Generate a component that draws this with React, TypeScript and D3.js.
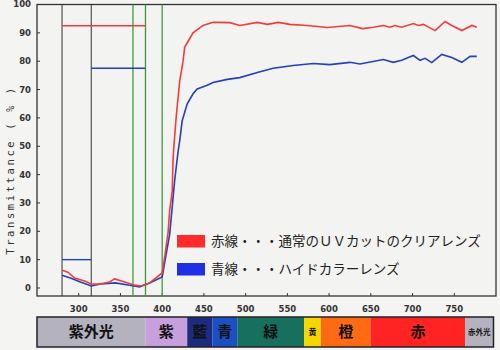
import React from "react";
import * as d3 from "d3";

const W = 500, H = 350;

const redCurve: [number, number][] = [
  [280, 6.3], [287, 5.6], [295, 3.5], [307, 2.5], [315, 1.4], [325, 1.4], [337, 2.1], [343, 3.2],
  [355, 2.1], [367, 1.0], [375, 0.7], [385, 1.8], [400, 5.3], [403, 11], [407, 19.4], [409, 27.5],
  [412, 34], [413, 45], [414, 50], [417, 61], [421, 73], [425, 80], [427, 85], [433, 88], [437, 90],
  [449, 92.6], [461, 93.7], [466, 93.7], [481, 93.6], [493, 92.6], [514, 93.7], [526, 93],
  [539, 93.7], [553, 93], [574, 92.6], [598, 91.9], [625, 92.6], [640, 91.5], [653, 92],
  [665, 92.6], [673, 92], [679, 92.6], [687, 92], [701, 93.3], [707, 92.6], [713, 93], [727, 90.8],
  [739, 94], [747, 92.6], [759, 90.8], [771, 92.6], [777, 92],
];

const blueCurve: [number, number][] = [
  [280, 4.5], [290, 3.5], [302, 2.1], [315, 0.7], [326, 1.4], [344, 1.8], [361, 1.0], [373, 0.4],
  [385, 1.8], [400, 3.9], [409, 19], [415, 38], [419, 48], [421, 52], [424, 59], [430, 65],
  [437, 68.5], [442, 70.2], [454, 71.5], [461, 72.5], [478, 73.6], [493, 74.2], [514, 76],
  [533, 77.5], [557, 78.5], [581, 79.2], [601, 78.8], [625, 79.6], [637, 79], [665, 80.6],
  [677, 79.6], [687, 80.3], [701, 82], [709, 80.3], [715, 81], [723, 79.5], [735, 82.4],
  [747, 81.3], [759, 79.6], [769, 81.7], [777, 81.7],
];

const blackLines = [280, 315];
const greenLines = [365, 380, 400];
// [from, to, value, series]
const levelSegments: [number, number, number, string][] = [
  [280, 380, 92.5, "red"],
  [315, 380, 77.5, "blue"],
  [280, 315, 10, "blue"],
];

const xTicks = [300, 350, 400, 450, 500, 550, 600, 650, 700, 750];
const yTicks = [0, 10, 20, 30, 40, 50, 60, 70, 80, 90, 100];

const bands: [number, number, string, string, string, number][] = [
  [250, 380, "紫外光", "#b4b2bf", "#111", 15],
  [380, 430, "紫", "#c79fdc", "#111", 15],
  [430, 460, "藍", "#1d2c7e", "#111", 15],
  [460, 490, "青", "#1b4fc4", "#111", 15],
  [490, 570, "緑", "#17705e", "#111", 15],
  [570, 590, "黄", "#f4d600", "#111", 8],
  [590, 650, "橙", "#ff6a12", "#111", 15],
  [650, 763, "赤", "#ff2323", "#111", 15],
  [763, 797, "赤外光", "#b4b2bf", "#111", 7.5],
];

const legendItems: [string, string][] = [
  ["#ff2a2a", "赤線・・・通常のＵＶカットのクリアレンズ"],
  ["#1f2fe6", "青線・・・ハイドカラーレンズ"],
];

const COLORS: Record<string, string> = { red: "#f23c3c", blue: "#2340bd" };

export default function App() {
  const x = d3.scaleLinear().domain([250, 800]).range([37, 496]);
  const y = d3.scaleLinear().domain([0, 100]).range([288, 4.5]);
  const plotBottom = 296;
  const line = d3.line<[number, number]>().x((d) => x(d[0])).y((d) => y(d[1]));
  const tickFont = "'DejaVu Sans', sans-serif";

  return (
    <svg width={W} height={H} style={{ position: "absolute", left: 0, top: 0 }}>
      <rect x={0} y={0} width={W} height={H} fill="#f4f4f2" />
      {/* frame */}
      <rect x={x(250)} y={y(100)} width={x(800) - x(250)} height={plotBottom - y(100)} fill="#f3f3f1" stroke="#333" strokeWidth={1.3} />

      {/* y ticks */}
      {yTicks.map((t) => (
        <g key={"y" + t}>
          <line x1={x(250)} x2={x(250) + 3} y1={y(t)} y2={y(t)} stroke="#333" strokeWidth={1} />
          <text x={31} y={y(t)} dy="0.35em" textAnchor="end" fontFamily={tickFont} fontWeight="bold" fontSize={8.5} fill="#333">{t}</text>
        </g>
      ))}
      {/* x ticks */}
      {xTicks.map((t) => (
        <g key={"x" + t}>
          <line x1={x(t)} x2={x(t)} y1={plotBottom} y2={plotBottom - 3} stroke="#333" strokeWidth={1} />
          <text x={x(t)} y={312} textAnchor="middle" fontFamily={tickFont} fontWeight="bold" fontSize={8.5} fill="#333">{t}</text>
        </g>
      ))}

      <text transform={`translate(14,170) rotate(-90)`} textAnchor="middle" fontFamily="'DejaVu Sans Mono', monospace" fontSize={10.5} letterSpacing={2.6} fill="#333">Transmittance ( % )</text>

      {/* vertical marker lines */}
      {blackLines.map((v) => (
        <line key={"b" + v} x1={x(v)} x2={x(v)} y1={y(100)} y2={plotBottom} stroke="#333" strokeWidth={1} />
      ))}
      {greenLines.map((v) => (
        <line key={"g" + v} x1={x(v)} x2={x(v)} y1={y(100)} y2={plotBottom} stroke="#3c9a3c" strokeWidth={1.3} />
      ))}

      {levelSegments.map(([a, b, v, s], i) => (
        <line key={"l" + i} x1={x(a)} x2={x(b)} y1={y(v)} y2={y(v)} stroke={COLORS[s]} strokeWidth={1.4} />
      ))}

      <path d={line(blueCurve) || ""} fill="none" stroke={COLORS.blue} strokeWidth={1.6} />
      <path d={line(redCurve) || ""} fill="none" stroke={COLORS.red} strokeWidth={1.6} />

      {/* legend */}
      {legendItems.map(([c, label], i) => (
        <g key={"lg" + i} transform={`translate(177,${235 + i * 28})`}>
          <rect x={0} y={0} width={28} height={12.5} fill={c} />
          <text x={34} y={11} fontFamily="'Noto Sans CJK JP', sans-serif" fontSize={13.5} fill="#222">{label}</text>
        </g>
      ))}

      {/* spectrum band */}
      {bands.map(([a, b, label, fill, tc, fs], i) => (
        <g key={"bd" + i}>
          <rect x={x(a)} y={317} width={x(b) - x(a)} height={30} fill={fill} />
          <text x={(x(a) + x(b)) / 2} y={332} dy="0.36em" textAnchor="middle" fontFamily="'Noto Sans CJK JP', sans-serif" fontWeight="bold" fontSize={fs} fill={tc}>{label}</text>
        </g>
      ))}
      <rect x={x(250)} y={317} width={x(797) - x(250)} height={30} fill="none" stroke="#222" strokeWidth={1.5} />
    </svg>
  );
}
